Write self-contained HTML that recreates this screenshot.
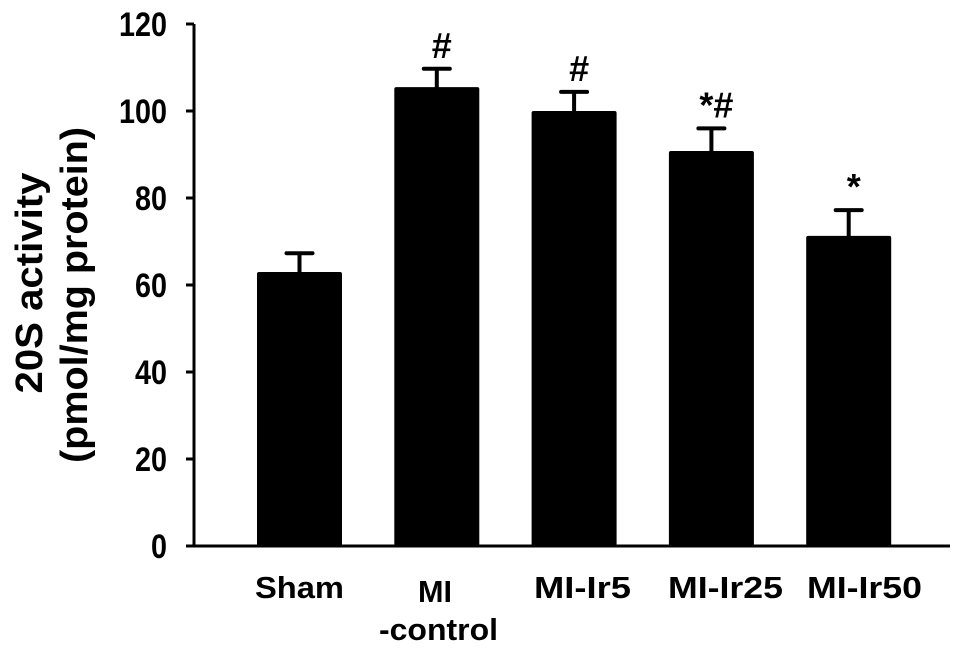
<!DOCTYPE html>
<html><head><meta charset="utf-8"><style>
html,body{margin:0;padding:0;background:#fff;}
svg{display:block;font-family:"Liberation Sans",Arial,sans-serif;font-weight:bold;}
</style></head><body>
<svg id="chart" width="969" height="653" viewBox="0 0 969 653">
<g id="axes"></g><g id="bars"></g>
<g transform="rotate(-90)" font-size="38">
<text x="-283" y="42" text-anchor="middle" textLength="221" lengthAdjust="spacingAndGlyphs">20S activity</text>
<text x="-295" y="87" text-anchor="middle" textLength="336" lengthAdjust="spacingAndGlyphs">(pmol/mg protein)</text>
</g>
</svg>
<script>
const categories=["Sham","MI|-control","MI-Ir5","MI-Ir25","MI-Ir50"];
const values=[63,105.5,100,90.8,71.3];
const errors=[4.3,4.2,4.4,5.2,5.9];
const marks=["","#","#","*#","*"];
const ticks=[0,20,40,60,80,100,120];
const NS="http://www.w3.org/2000/svg";
const x0=194,x1=950,y0=546,yTop=24,vmax=120;
const y=v=>y0-(v/vmax)*(y0-yTop);
const xc=i=>299.5+i*137.3;
const bw=85;
// label layout: [left, width, baseline] per line
const labelBoxes=[[[255,89,598]],[[418,34,602],[379,119,640]],[[534,97,598]],[[668,115,598]],[[807,115,598]]];
function mk(t,a,p){const e=document.createElementNS(NS,t);for(const k in a)e.setAttribute(k,a[k]);p.appendChild(e);return e;}
const ax=document.getElementById('axes'),bg=document.getElementById('bars');
let l=mk('line',{x1:x0,y1:yTop,x2:x0,y2:y0+1,stroke:'#000','stroke-width':3},ax);


l=mk('line',{x1:x0-8,y1:y0,x2:x1,y2:y0,stroke:'#000','stroke-width':3},ax);


ticks.forEach(t=>{
 const tk=mk('line',{x1:x0-8,y1:y(t),x2:x0,y2:y(t),stroke:'#000','stroke-width':3},ax);
 
 
 const s=String(t);
 const tx=mk('text',{x:167,y:y(t)+12,'text-anchor':'end','font-size':34,textLength:s.length*16,lengthAdjust:'spacingAndGlyphs'},ax);
 tx.textContent=s;
 
 
});
categories.forEach((c,i)=>{
 const cx=xc(i),v=values[i],e=errors[i];
 const r=mk('rect',{x:cx-bw/2,y:y(v),width:bw,height:y0-y(v),fill:'#000',rx:2},bg);
 
 
 const el=mk('path',{d:`M${cx},${y(v)} V${y(v+e)} M${cx-13},${y(v+e)} H${cx+13}`,stroke:'#000','stroke-width':4,'stroke-linecap':'round',fill:'none'},bg);
 
 
 if(marks[i]){
  const m=mk('text',{x:cx+5,y:y(v+e)-11,'text-anchor':'middle','font-size':36},bg);
  m.textContent=marks[i];
  
  
 }
 const parts=c.split('|');
 parts.forEach((p,j)=>{
  const b=labelBoxes[i][j];
  const t=mk('text',{x:b[0],y:b[2],'font-size':31,textLength:b[1],lengthAdjust:'spacingAndGlyphs'},ax);
  t.textContent=p;
  
  
 });
});
</script>
</body></html>
